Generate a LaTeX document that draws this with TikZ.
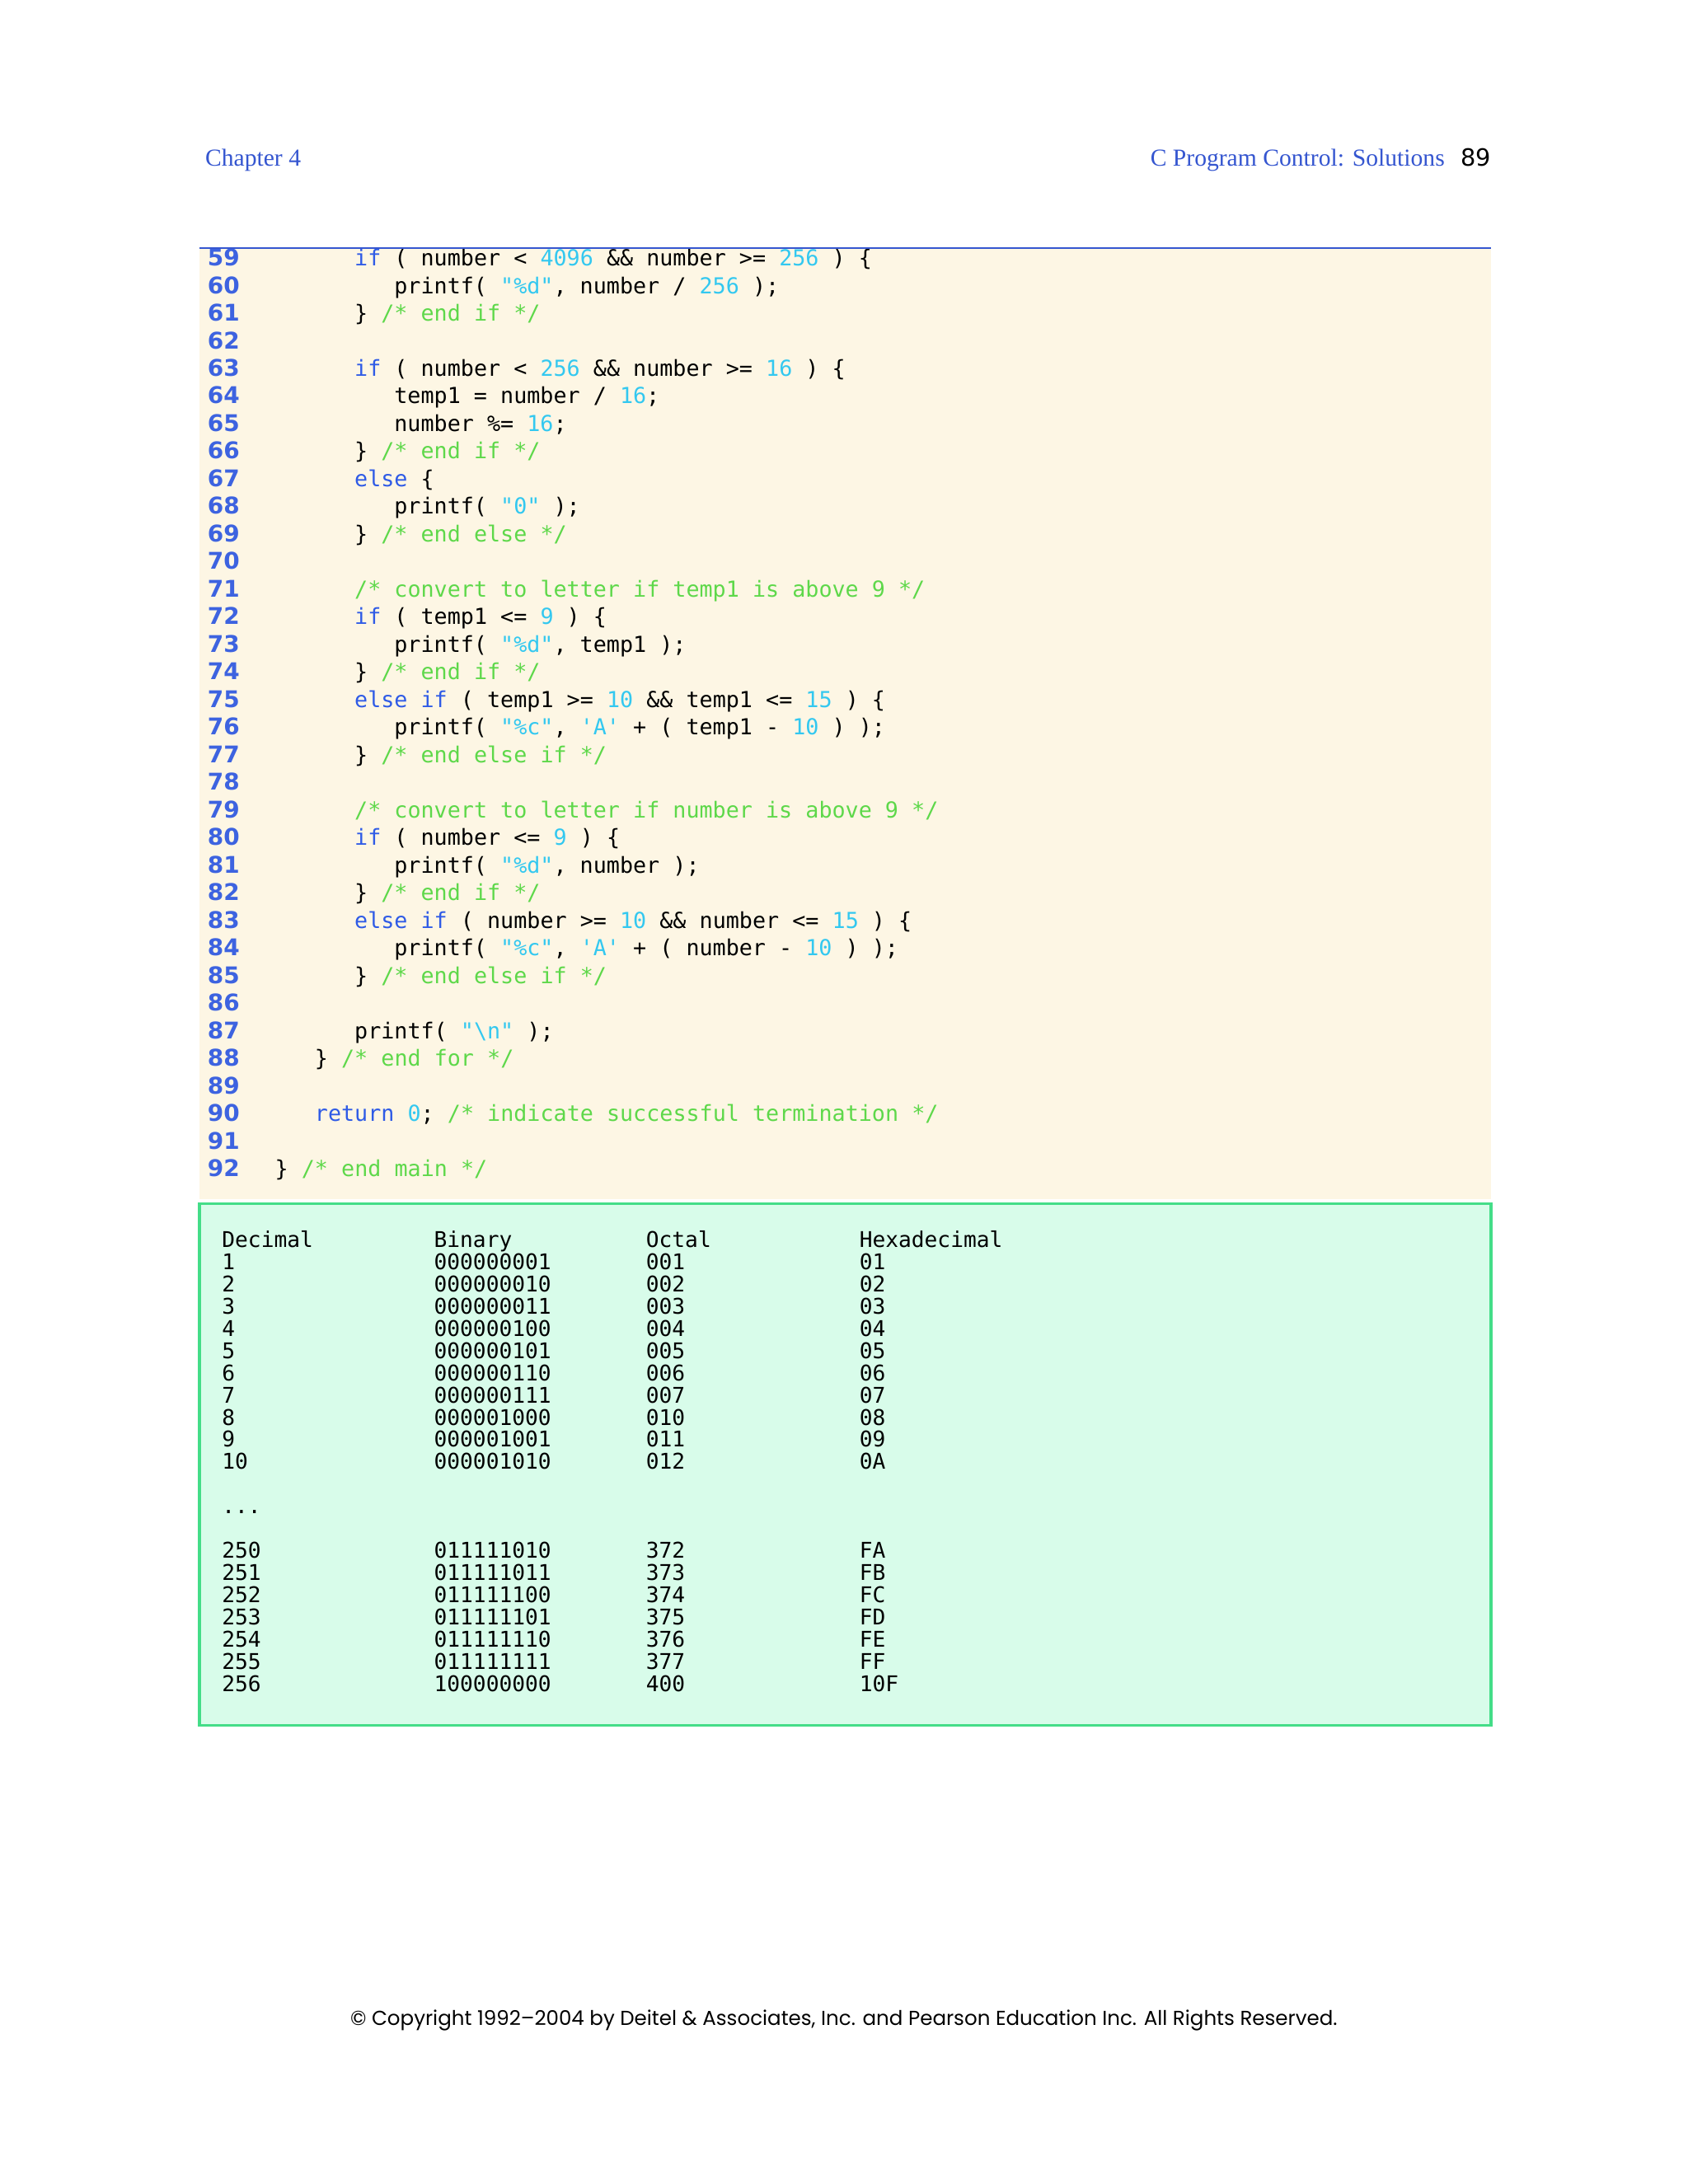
\documentclass[tikz,border=0pt]{standalone}
\usepackage{fontspec}
\setmainfont{Liberation Serif}
\newfontfamily\cf{DejaVu Sans Mono}
\newfontfamily\lnf{DejaVu Sans}
\newfontfamily\cpf{Poppins}
\definecolor{kwc}{HTML}{2F5BE6}
\definecolor{nmc}{HTML}{33C8F0}
\definecolor{cmc}{HTML}{5ED84A}
\definecolor{lnc}{HTML}{3D63E0}
\definecolor{hdc}{HTML}{3556D0}
\definecolor{cream}{HTML}{FDF6E4}
\definecolor{mint}{HTML}{D8FCEA}
\definecolor{mintb}{HTML}{44DD88}
\newcommand{\kw}[1]{\textcolor{kwc}{#1}}
\newcommand{\nm}[1]{\textcolor{nmc}{#1}}
\newcommand{\cm}[1]{\textcolor{cmc}{#1}}
\tikzset{codetxt/.style={anchor=base west,inner sep=0pt,font=\cf\fontsize{15.8}{19}\selectfont},
lnum/.style={anchor=base east,inner sep=0pt,text=lnc,font=\lnf\bfseries\fontsize{16.5}{19}\selectfont},
outtxt/.style={anchor=base west,inner sep=0pt,font=\cf\fontsize{15.5}{17}\selectfont}}
\newcommand{\cl}[3]{%
 \pgfmathsetmacro\yy{185+(#1-59)*19.79+5.6}%
 \pgfmathsetmacro\xx{197+#2*9.5}%
 \node[lnum] (n#1) at (172,\yy) {#1};
 \node[codetxt] (c#1) at (\xx,\yy) {#3};}
\newcommand{\orow}[5]{%
 \pgfmathsetmacro\yy{889+#1*15.93+5.3}%
 \node[outtxt] (oa#1) at (159,\yy) {#2};
 \node[outtxt] (ob#1) at (311,\yy) {#3};
 \node[outtxt] (oc#1) at (463,\yy) {#4};
 \node[outtxt] (od#1) at (616,\yy) {#5};}
\begin{document}
\begin{tikzpicture}[x=1pt,y=-1pt]
\useasboundingbox[fill=white] (0,0) rectangle (1210,1566);
\fill[cream] (143,178) rectangle (1069,860);
\node[anchor=base west,inner sep=0pt,text=hdc,font=\fontsize{17.5}{20}\selectfont] (ch) at (147,119) {Chapter 4};
\node[anchor=base east,inner sep=0pt,text=hdc,font=\fontsize{17.5}{20}\selectfont] (ti) at (1036,119) {C Program Control: Solutions};
\node[anchor=base east,inner sep=0pt,font=\lnf\fontsize{17}{20}\selectfont] (pg) at (1069,119) {89};
\cl{59}{6}{\kw{if} ( number < \nm{4096} \&\& number >= \nm{256} ) \{}
\cl{60}{9}{printf( \nm{"\%d"}, number / \nm{256} );}
\cl{61}{6}{\} \cm{/* end if */}}
\cl{62}{6}{}
\cl{63}{6}{\kw{if} ( number < \nm{256} \&\& number >= \nm{16} ) \{}
\cl{64}{9}{temp1 = number / \nm{16};}
\cl{65}{9}{number \%= \nm{16};}
\cl{66}{6}{\} \cm{/* end if */}}
\cl{67}{6}{\kw{else} \{}
\cl{68}{9}{printf( \nm{"0"} );}
\cl{69}{6}{\} \cm{/* end else */}}
\cl{70}{6}{}
\cl{71}{6}{\cm{/* convert to letter if temp1 is above 9 */}}
\cl{72}{6}{\kw{if} ( temp1 <= \nm{9} ) \{}
\cl{73}{9}{printf( \nm{"\%d"}, temp1 );}
\cl{74}{6}{\} \cm{/* end if */}}
\cl{75}{6}{\kw{else if} ( temp1 >= \nm{10} \&\& temp1 <= \nm{15} ) \{}
\cl{76}{9}{printf( \nm{"\%c"}, \nm{'A'} + ( temp1 - \nm{10} ) );}
\cl{77}{6}{\} \cm{/* end else if */}}
\cl{78}{6}{}
\cl{79}{6}{\cm{/* convert to letter if number is above 9 */}}
\cl{80}{6}{\kw{if} ( number <= \nm{9} ) \{}
\cl{81}{9}{printf( \nm{"\%d"}, number );}
\cl{82}{6}{\} \cm{/* end if */}}
\cl{83}{6}{\kw{else if} ( number >= \nm{10} \&\& number <= \nm{15} ) \{}
\cl{84}{9}{printf( \nm{"\%c"}, \nm{'A'} + ( number - \nm{10} ) );}
\cl{85}{6}{\} \cm{/* end else if */}}
\cl{86}{6}{}
\cl{87}{6}{printf( \nm{"\textbackslash n"} );}
\cl{88}{3}{\} \cm{/* end for */}}
\cl{89}{3}{}
\cl{90}{3}{\kw{return} \nm{0}; \cm{/* indicate successful termination */}}
\cl{91}{3}{}
\cl{92}{0}{\} \cm{/* end main */}}
\fill[white] (140,160) rectangle (1072,178);
\draw[hdc,line width=1.3pt] (143,178) -- (1069,178);
\draw[mintb,fill=mint,line width=2pt] (143,863) rectangle (1069,1237);
\orow{0}{Decimal}{Binary}{Octal}{Hexadecimal}
\orow{1}{1}{000000001}{001}{01}
\orow{2}{2}{000000010}{002}{02}
\orow{3}{3}{000000011}{003}{03}
\orow{4}{4}{000000100}{004}{04}
\orow{5}{5}{000000101}{005}{05}
\orow{6}{6}{000000110}{006}{06}
\orow{7}{7}{000000111}{007}{07}
\orow{8}{8}{000001000}{010}{08}
\orow{9}{9}{000001001}{011}{09}
\orow{10}{10}{000001010}{012}{0A}
\orow{12}{...}{}{}{}
\orow{14}{250}{011111010}{372}{FA}
\orow{15}{251}{011111011}{373}{FB}
\orow{16}{252}{011111100}{374}{FC}
\orow{17}{253}{011111101}{375}{FD}
\orow{18}{254}{011111110}{376}{FE}
\orow{19}{255}{011111111}{377}{FF}
\orow{20}{256}{100000000}{400}{10F}
\node[inner sep=0pt,anchor=base,font=\cpf\fontsize{14.5}{17}\selectfont] (cp) at (605,1452) {© Copyright 1992–2004 by Deitel \& Associates, Inc. and Pearson Education Inc. All Rights Reserved.};
\end{tikzpicture}
\end{document}
